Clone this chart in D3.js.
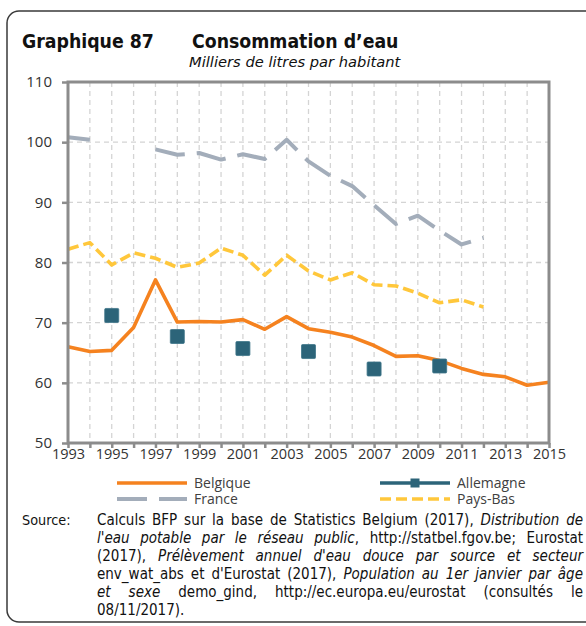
<!DOCTYPE html>
<html>
<head>
<meta charset="utf-8">
<script src="https://cdn.jsdelivr.net/npm/d3@7/dist/d3.min.js"></script>
<style>
  html, body { margin: 0; padding: 0; background: #fff; }
  svg { display: block; }
</style>
</head>
<body>
<svg id="chart" width="586" height="626"></svg>
<script>
// Annual water consumption, thousands of litres per inhabitant
const years = [1993, 1994, 1995, 1996, 1997, 1998, 1999, 2000, 2001, 2002, 2003, 2004,
               2005, 2006, 2007, 2008, 2009, 2010, 2011, 2012, 2013, 2014, 2015];
const belgique = [66.0, 65.2, 65.4, 69.2, 77.1, 70.1, 70.2, 70.1, 70.5, 68.9, 71.0, 69.0,
                  68.4, 67.6, 66.2, 64.4, 64.5, 63.7, 62.4, 61.4, 61.0, 59.6, 60.1];
const allemagne = [null, null, 71.2, null, null, 67.7, null, null, 65.7, null, null, 65.2,
                   null, null, 62.3, null, null, 62.8, null, null, null, null, null];
const france = [100.8, 100.4, null, null, 98.8, 97.9, 98.2, 97.1, 98.0, 97.2, 100.4, 96.8,
                94.4, 92.7, 89.5, 86.4, 87.8, 85.3, 83.0, 84.1, null, null, null];
const paysBas = [82.2, 83.3, 79.6, 81.6, 80.7, 79.2, 79.9, 82.4, 81.2, 77.9, 81.2, 78.6,
                 77.1, 78.3, 76.3, 76.1, 74.9, 73.3, 73.8, 72.6, null, null, null];

const yTicks = [50, 60, 70, 80, 90, 100, 110];
const xTickLabels = [1993, 1995, 1997, 1999, 2001, 2003, 2005, 2007, 2009, 2011, 2013, 2015];

const seriesNames = ["Belgique", "Allemagne", "France", "Pays-Bas"];
const colors = {
  "Belgique": "#f5821f",
  "Allemagne": "#2c6479",
  "France": "#a3adba",
  "Pays-Bas": "#ffc73b"
};

const sourceLines = [
  "Calculs BFP sur la base de Statistics Belgium (2017), *Distribution de*",
  "*l'eau potable par le réseau public*, http://statbel.fgov.be; Eurostat",
  "(2017), *Prélèvement annuel d'eau douce par source et secteur*",
  "env_wat_abs et d'Eurostat (2017), *Population au 1er janvier par âge*",
  "*et sexe* demo_gind, http://ec.europa.eu/eurostat (consultés le",
  "08/11/2017)."
];

const FONT = "'Open Sans', 'Noto Sans', sans-serif";
const TEXTFONT = "'DejaVu Sans Condensed', 'DejaVu Sans', sans-serif";
const WIDEFONT = "'DejaVu Sans', sans-serif";
const svg = d3.select("#chart");

// outer rounded frame
svg.append("rect")
  .attr("x", 7).attr("y", 11).attr("width", 620).attr("height", 611)
  .attr("rx", 12).attr("ry", 12)
  .attr("fill", "none").attr("stroke", "#3a3a3a").attr("stroke-width", 1.5);

// titles
svg.append("text").attr("x", 22).attr("y", 48)
  .attr("font-family", TEXTFONT).attr("font-weight", "bold").attr("font-size", 19.3)
  .attr("fill", "#111").text("Graphique 87");
svg.append("text").attr("x", 192).attr("y", 48)
  .attr("font-family", TEXTFONT).attr("font-weight", "bold").attr("font-size", 19.3)
  .attr("fill", "#111").text("Consommation d\u2019eau");
svg.append("text").attr("x", 189).attr("y", 67)
  .attr("font-family", WIDEFONT).attr("font-style", "italic").attr("font-size", 14.7)
  .attr("fill", "#111").text("Milliers de litres par habitant");

// plot area
const x = d3.scaleLinear().domain([1993, 2015]).range([68, 549]);
const y = d3.scaleLinear().domain([50, 110]).range([443, 82]);

const grid = svg.append("g");
grid.selectAll("line.v").data(years.slice(1, -1)).join("line")
  .attr("x1", d => x(d)).attr("x2", d => x(d))
  .attr("y1", y(110)).attr("y2", y(50))
  .attr("stroke", "#d4d4d4").attr("stroke-width", 1.3).attr("stroke-dasharray", "5,4");
grid.selectAll("line.h").data(yTicks.slice(1, -1)).join("line")
  .attr("x1", x(1993)).attr("x2", x(2015))
  .attr("y1", d => y(d)).attr("y2", d => y(d))
  .attr("stroke", "#d4d4d4").attr("stroke-width", 1.3).attr("stroke-dasharray", "5,4");

// split a series into continuous runs so each run starts its own dash pattern
function runs(values) {
  const out = [];
  let cur = [];
  values.forEach((v, i) => {
    if (v == null) { if (cur.length) out.push(cur); cur = []; }
    else cur.push([years[i], v]);
  });
  if (cur.length) out.push(cur);
  return out.filter(r => r.length > 1);
}
const line = d3.line().x(d => x(d[0])).y(d => y(d[1]));

function drawSeries(values, color, width, dash) {
  svg.append("g").selectAll("path").data(runs(values)).join("path")
    .attr("d", line)
    .attr("fill", "none").attr("stroke", color).attr("stroke-width", width)
    .attr("stroke-dasharray", dash).attr("stroke-linejoin", "round");
}

drawSeries(paysBas, colors["Pays-Bas"], 3.6, "11,5");
drawSeries(france, colors["France"], 4, "30,12");
drawSeries(belgique, colors["Belgique"], 3.6, null);

// Allemagne: isolated observations shown as square markers
const mk = 14;
svg.append("g").selectAll("rect")
  .data(years.map((yr, i) => [yr, allemagne[i]]).filter(d => d[1] != null))
  .join("rect")
  .attr("x", d => x(d[0]) - mk / 2).attr("y", d => y(d[1]) - mk / 2)
  .attr("width", mk).attr("height", mk).attr("rx", 1)
  .attr("fill", colors["Allemagne"]).attr("stroke", "#3d7589").attr("stroke-width", 0.8);

// plot border
svg.append("rect")
  .attr("x", x(1993)).attr("y", y(110))
  .attr("width", x(2015) - x(1993)).attr("height", y(50) - y(110))
  .attr("fill", "none").attr("stroke", "#8c8c8c").attr("stroke-width", 3);

// axes
const yAxis = d3.axisLeft(y).tickValues(yTicks).tickSize(6).tickPadding(10);
const gy = svg.append("g").attr("transform", `translate(${x(1993)},0)`).call(yAxis);
gy.select(".domain").remove();
gy.selectAll(".tick line").attr("stroke", "#8c8c8c").attr("stroke-width", 2.5);
gy.selectAll(".tick text").attr("font-family", FONT).attr("font-size", 15)
  .attr("fill", "#333").attr("dy", "0.32em");

const xAxis = d3.axisBottom(x).tickValues(years).tickSize(5).tickPadding(1)
  .tickFormat(d => xTickLabels.includes(d) ? String(d) : "");
const gx = svg.append("g").attr("transform", `translate(0,${y(50)})`).call(xAxis);
gx.select(".domain").remove();
gx.selectAll(".tick line").attr("stroke", "#8c8c8c").attr("stroke-width", 2.5);
gx.selectAll(".tick text").attr("font-family", FONT).attr("font-size", 14.5)
  .attr("fill", "#333");

// legend
const leg = svg.append("g").attr("font-family", FONT).attr("font-size", 14).attr("fill", "#404040");
const legendItems = [
  { name: "Belgique", x: 117, y: 483, dash: null, w: 3.6 },
  { name: "Allemagne", x: 380, y: 483, dash: null, w: 3.6, marker: true },
  { name: "France", x: 117, y: 499, dash: "30,12", w: 4 },
  { name: "Pays-Bas", x: 380, y: 499, dash: "11,5", w: 3.6 }
];
legendItems.forEach(it => {
  leg.append("line").attr("x1", it.x).attr("x2", it.x + 70)
    .attr("y1", it.y).attr("y2", it.y)
    .attr("stroke", colors[it.name]).attr("stroke-width", it.w)
    .attr("stroke-dasharray", it.dash);
  if (it.marker) {
    leg.append("rect").attr("x", it.x + 35 - 4.5).attr("y", it.y - 4.5)
      .attr("width", 9).attr("height", 9).attr("fill", colors[it.name]);
  }
  leg.append("text").attr("x", it.x + 77).attr("y", it.y + 5).text(it.name);
});

// source note, justified between the two margins
const src = svg.append("g").attr("font-family", TEXTFONT).attr("fill", "#111");
const srcSize = 15;
src.append("text").attr("x", 22).attr("y", 525).attr("font-size", 14.3).text("Source:");
const srcLeft = 97, srcRight = 583, srcLineH = 18, srcTop = 525;
sourceLines.forEach((ln, li) => {
  // parse italic ranges marked with *
  const chars = [];
  let it = false;
  for (const c of ln) { if (c === "*") { it = !it; continue; } chars.push({ c, it }); }
  const words = [];
  let cur = [];
  chars.forEach(ch => {
    if (ch.c === " ") { if (cur.length) words.push(cur); cur = []; }
    else cur.push(ch);
  });
  if (cur.length) words.push(cur);
  const nodes = words.map(w => {
    const t = src.append("text").attr("y", srcTop + li * srcLineH).attr("font-size", srcSize);
    // group consecutive characters sharing a style
    const pieces = [];
    w.forEach(ch => {
      const last = pieces[pieces.length - 1];
      if (last && last.it === ch.it) last.s += ch.c; else pieces.push({ s: ch.c, it: ch.it });
    });
    pieces.forEach(p => t.append("tspan").attr("font-style", p.it ? "italic" : "normal").text(p.s));
    return t;
  });
  const avail = srcRight - srcLeft;
  const minGap = 3.5;
  let size = srcSize;
  let widths = nodes.map(n => n.node().getComputedTextLength());
  // shrink a line slightly if it cannot fit with minimal word spacing
  while (d3.sum(widths) + minGap * (nodes.length - 1) > avail && size > 11) {
    size -= 0.2;
    nodes.forEach(n => n.attr("font-size", size));
    widths = nodes.map(n => n.node().getComputedTextLength());
  }
  const total = d3.sum(widths);
  const isLast = li === sourceLines.length - 1;
  const gap = isLast ? 4.5 : (avail - total) / (nodes.length - 1);
  let cx = srcLeft;
  nodes.forEach((n, i) => { n.attr("x", cx); cx += widths[i] + gap; });
});
</script>
</body>
</html>
